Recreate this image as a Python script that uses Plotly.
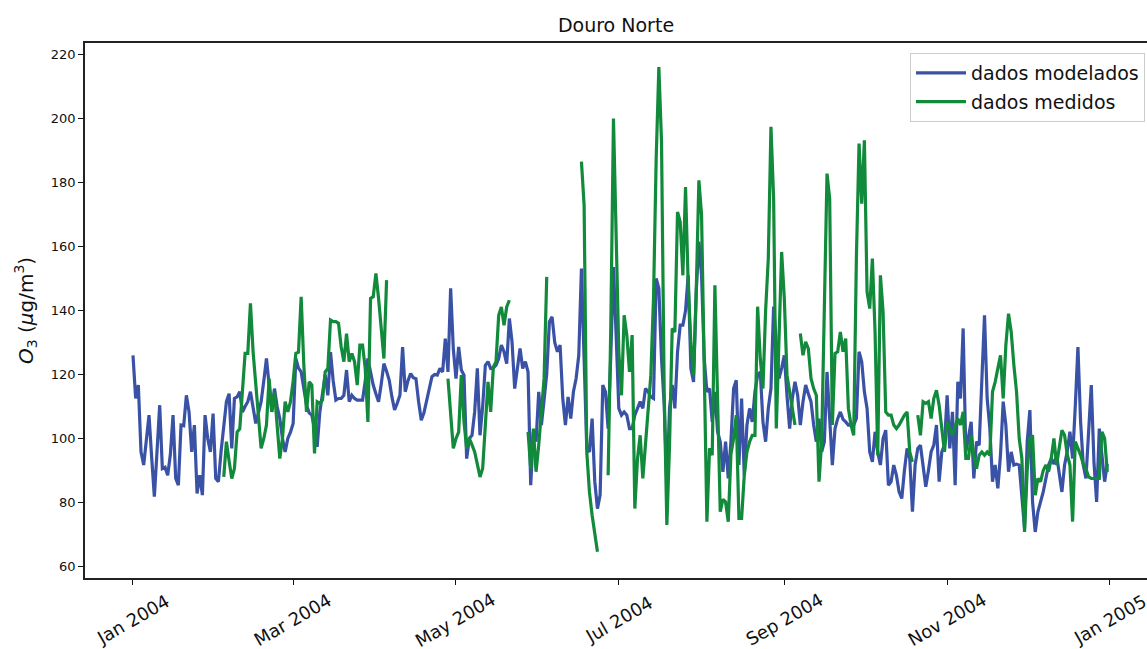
import pandas as pd
import plotly.graph_objects as go

# ---------------- data (daily values, 2004) ----------------
start_date = "2004-01-01"
n_days = 366

modelados = [
    126, 112.5, 116.7, 95.8, 91.7, 100, 107.3, 94, 81.8, 96,
    110.4, 90.6, 91, 88.5, 95, 107.3, 87.5, 85.4, 104.2, 104,
    113.5, 108.3, 95.8, 104.2, 82.8, 88.5, 82.3, 107.3, 100, 95.8,
    107.8, 87.5, 86.5, 96, 104.2, 111.5, 114, 96.9, 112.5, 113,
    114.6, 108.3, 110, 111.5, 114.6, 110, 104.7, 108, 111.5, 118,
    125, 116.7, 108.3, 115.6, 110, 106.2, 100, 95.8, 100, 102,
    104.7, 125, 122, 120.8, 115, 110.4, 108, 107.3, 103, 97.4,
    108.3, 114, 119.8, 113.5, 127, 118, 112, 112.5, 112.5, 113.5,
    121.4, 111.5, 113.5, 112.5, 112, 112, 112, 118, 125, 120.8,
    116.7, 114, 111.5, 117, 123.4, 121, 118.2, 113, 108.9, 111,
    113.5, 128.6, 114.6, 118, 120.3, 119, 118.7, 111.5, 105.7, 108,
    111.5, 116, 119.3, 120, 119.8, 121.9, 120.8, 131.2, 120.8, 146.9,
    128.1, 118.7, 128.6, 121.4, 119.8, 93.7, 100, 101, 108.3, 121.9,
    101, 110, 122.9, 124, 121.9, 122, 122.9, 125, 129.2, 127.1,
    123.4, 137.5, 130.2, 115.6, 122, 128.1, 121.9, 124, 120.8, 85.4,
    102.1, 99, 114.6, 104.2, 112, 120.3, 136.5, 138, 130, 127.1,
    129.2, 112.5, 104.2, 113, 106.2, 114.6, 118.75, 126, 153.1, 126,
    96.9, 95.8, 106.2, 86.5, 78.1, 82.3, 116.7, 114.6, 103.1, 126,
    153.6, 132.3, 109.4, 107.3, 108.3, 107.3, 103.1, 103.1, 107.3, 109.4,
    111.5, 109.4, 115.6, 114.6, 113, 112.5, 150, 146.9, 125, 110.4,
    85.4, 109.4, 116.7, 109.4, 127.1, 135.4, 135.4, 140, 151, 121.9,
    117.7, 145.8, 161.5, 151, 125, 114.6, 115.6, 105.2, 114.6, 102.1,
    99, 89.6, 99, 87.5, 99, 115.6, 118.2, 91.7, 112.5, 88.5,
    104.2, 109.4, 105.2, 114.6, 119.8, 120.8, 105.2, 99, 109.4, 115.6,
    141.2, 130.2, 118.75, 122, 126, 113.5, 103.1, 112.5, 117.7, 113.5,
    104.2, 111.5, 116.7, 114, 111.5, 104.2, 99, 106.2, 95.8, 99,
    120.8, 106.2, 91.7, 103.1, 106.2, 108.3, 106, 105.2, 104.2, 104.2,
    104.2, 106.25, 127.1, 124, 114.6, 109.4, 95.8, 92.7, 102.1, 95.8,
    91.7, 100, 102.6, 85.4, 86.5, 91.7, 88.5, 83.3, 81.25, 90,
    96.9, 93.75, 77.1, 91.7, 96.9, 97.9, 91.7, 84.9, 90, 95.8,
    97.9, 104.2, 86.5, 95.8, 97.9, 113.5, 96.9, 108.3, 85.4, 117.7,
    112.5, 134.4, 95.8, 101, 105.2, 87.5, 99, 97.9, 115.6, 138.5,
    112.5, 103.1, 86.5, 91.7, 84.4, 95, 111.5, 104.2, 89.6, 95.8,
    91.7, 92, 91.7, 82.3, 71.9, 99, 108.9, 80.2, 70.8, 77.1,
    80, 83.3, 87.5, 91.7, 93.75, 92, 94.8, 89.6, 83.3, 91.7,
    96, 102.1, 93.75, 110, 128.6, 105.2, 91.7, 87.5, 104.2, 116.7,
    92.7, 80.2, 103.1, 95.8, 86.5, 92,
]

medidos = (
    [None] * 34
    + [88, 99, 93, 87.5, 90.6, 102,
       103, 115, 126.6, 126.6, 142.2, 127, 116.7, 105, 96.9, 100,
       104.2, 118.7, 108.3, 114.6, 104, 93.7, 100, 111.5, 108.3, 111.5,
       118, 126.6, 127, 144.3, 122.9, 108.3, 117.7, 116.7, 95.3, 111.5,
       111, 112, 120.8, 121.9, 137, 136.5, 136.5, 136, 128.6, 124,
       132.8, 124, 126.6, 124, 116.7, 129.2, 129.2, 121.9, 105.2, 143.8,
       144.3, 151.6, 143.8, 135, 125, 149.5]
    + [None] * 22
    + [118.7, 108, 96.9, 100, 102, 119.8, 105.2, 96.9, 100, 98, 95.8, 92,
       88, 90.6, 105, 117.7, 108.3, 122.4, 124, 138.5, 141.1, 135.4, 141.1, 143.2]
    + [None] * 6
    + [102.1, 90.6, 103.1, 89.6, 97.9, 108, 118.7, 150.5]
    + [None] * 12
    + [186.5, 172.9, 95.8, 83.3, 76, 70, 64.6]
    + [None] * 3
    + [88.5, 135, 200, 164.6, 127.1, 113.5, 138.5, 132.3, 120.8, 132.3, 78.1, 93.7,
       101, 87.5, 97.9, 108, 119.8, 143.8, 187.5, 216.1, 192.7, 114.6,
       73, 97.9, 134.4, 133.3, 170.8, 167.7, 151, 178.6, 147.9, 130,
       119.8, 145.8, 180.7, 169.8, 125, 74, 96.9, 94.8, 147.9, 114.6,
       77.1, 81, 80.2, 74, 95, 100, 107.3, 75, 75, 88.5,
       95.8, 99, 101, 101, 141.2, 125, 115.6, 140, 156.25, 197.4,
       175, 103.1, 135.4, 158.3, 143.75, 119.8, 114.6, 110, 104.2]
    + [None] * 1
    + [132.8, 126, 130.2, 128.1, 118.75, 115.6, 113.5, 86.5, 99, 145.8,
       182.8, 175, 104.2, 126.6, 127.1, 133.3, 127.1, 131.2, 109.4, 104.2,
       101, 156.25, 192.2, 173.4, 193.2, 145.8, 140.6, 156.25, 133.3, 94.8,
       151, 139.6, 108.3, 107.3, 107.3, 104.2, 103.1, 104.2, 106, 107.3,
       108.3, 95.8, 92.7]
    + [None] * 1
    + [107.3, 101, 111.5, 111, 111.5, 106.25,
       112.5, 115.1, 110.4, 103, 95.8, 105.2, 103.1, 101, 104, 106.25,
       104.2, 108.3, 93.75, 93.75, 101, 94.8, 90.6, 94.8, 95.8, 94.8,
       95.8, 94.8, 114.6, 117.7, 121.9, 126, 112.5, 129.2, 139, 133.3,
       122.9, 114.6, 100, 93.75, 70.8, 90, 100, 101, 82.3, 87.5,
       86.5, 90, 91.7, 89.6, 93.75, 100, 91.7, 97, 102.6, 101,
       95, 91.7, 74, 99, 96.9, 94.8, 92, 90.6, 88, 87.5,
       87.5, 87.5, 87.5, 102.1, 100, 89.6]
)

assert len(modelados) == n_days, len(modelados)
assert len(medidos) == n_days, len(medidos)

tick_dates = ["2004-01-01", "2004-03-01", "2004-05-01", "2004-07-01",
              "2004-09-01", "2004-11-01", "2005-01-01"]
tick_labels = ["Jan 2004", "Mar 2004", "May 2004", "Jul 2004",
               "Sep 2004", "Nov 2004", "Jan 2005"]
y_ticks = [60, 80, 100, 120, 140, 160, 180, 200, 220]

dates = pd.date_range(start_date, periods=n_days, freq="D")

FONT = "DejaVu Sans"
BLUE = "#3a52a5"
GREEN = "#128a3b"
TXT = "#111111"

fig = go.Figure()
fig.add_trace(go.Scatter(x=dates, y=modelados, mode="lines", name="dados modelados",
                         legendgroup="a",
                         line=dict(color=BLUE, width=3.2)))
fig.add_trace(go.Scatter(x=dates, y=medidos, mode="lines", name="dados medidos",
                         legendgroup="b",
                         line=dict(color=GREEN, width=3.2), connectgaps=False))

# x tick labels centred on their ticks (rotated 30 degrees)
annotations = [
    dict(x=d, y=-0.0785, xref="x", yref="paper", text=t, showarrow=False,
         textangle=-30, xanchor="center", yanchor="middle",
         font=dict(family=FONT, size=18, color=TXT))
    for d, t in zip(tick_dates, tick_labels)
]

fig.update_layout(
    width=1147, height=649,
    margin=dict(l=85, r=0, t=43, b=71),
    paper_bgcolor="white", plot_bgcolor="white",
    font=dict(family=FONT, color=TXT),
    title=dict(text="Douro Norte", x=0.5, xref="paper", xanchor="center",
               y=1 - 25 / 649, yanchor="middle",
               font=dict(family=FONT, size=19, color=TXT)),
    showlegend=True,
    legend=dict(x=(910 - 85) / 1062, y=1 - (53 - 43) / 535, xanchor="left", yanchor="top",
                bgcolor="rgba(255,255,255,0.85)", bordercolor="#cccccc", borderwidth=1,
                font=dict(family=FONT, size=19, color=TXT),
                traceorder="grouped", tracegroupgap=1,
                itemwidth=50),
    annotations=annotations,
)

fig.update_xaxes(
    type="date",
    range=["2003-12-14 00:30", "2005-01-14 21:00"],
    tickvals=tick_dates, ticktext=tick_labels,
    showticklabels=False,
    ticks="outside", ticklen=5, tickwidth=1.2, tickcolor=TXT,
    showline=True, linecolor="#222222", linewidth=1.5, mirror=True,
    showgrid=False, zeroline=False,
)
fig.update_yaxes(
    range=[56.4, 223.6],
    tickvals=y_ticks,
    tickfont=dict(family=FONT, size=13, color=TXT),
    ticks="outside", ticklen=5, tickwidth=1.2, tickcolor=TXT,
    showline=True, linecolor="#222222", linewidth=1.5, mirror=False,
    showgrid=False, zeroline=False,
    title=dict(text="<i>O</i><sub>3</sub> (<i>μ</i>g/m<sup>3</sup>)",
               font=dict(family=FONT, size=20, color=TXT), standoff=12),
)

fig.write_html("out.html")
